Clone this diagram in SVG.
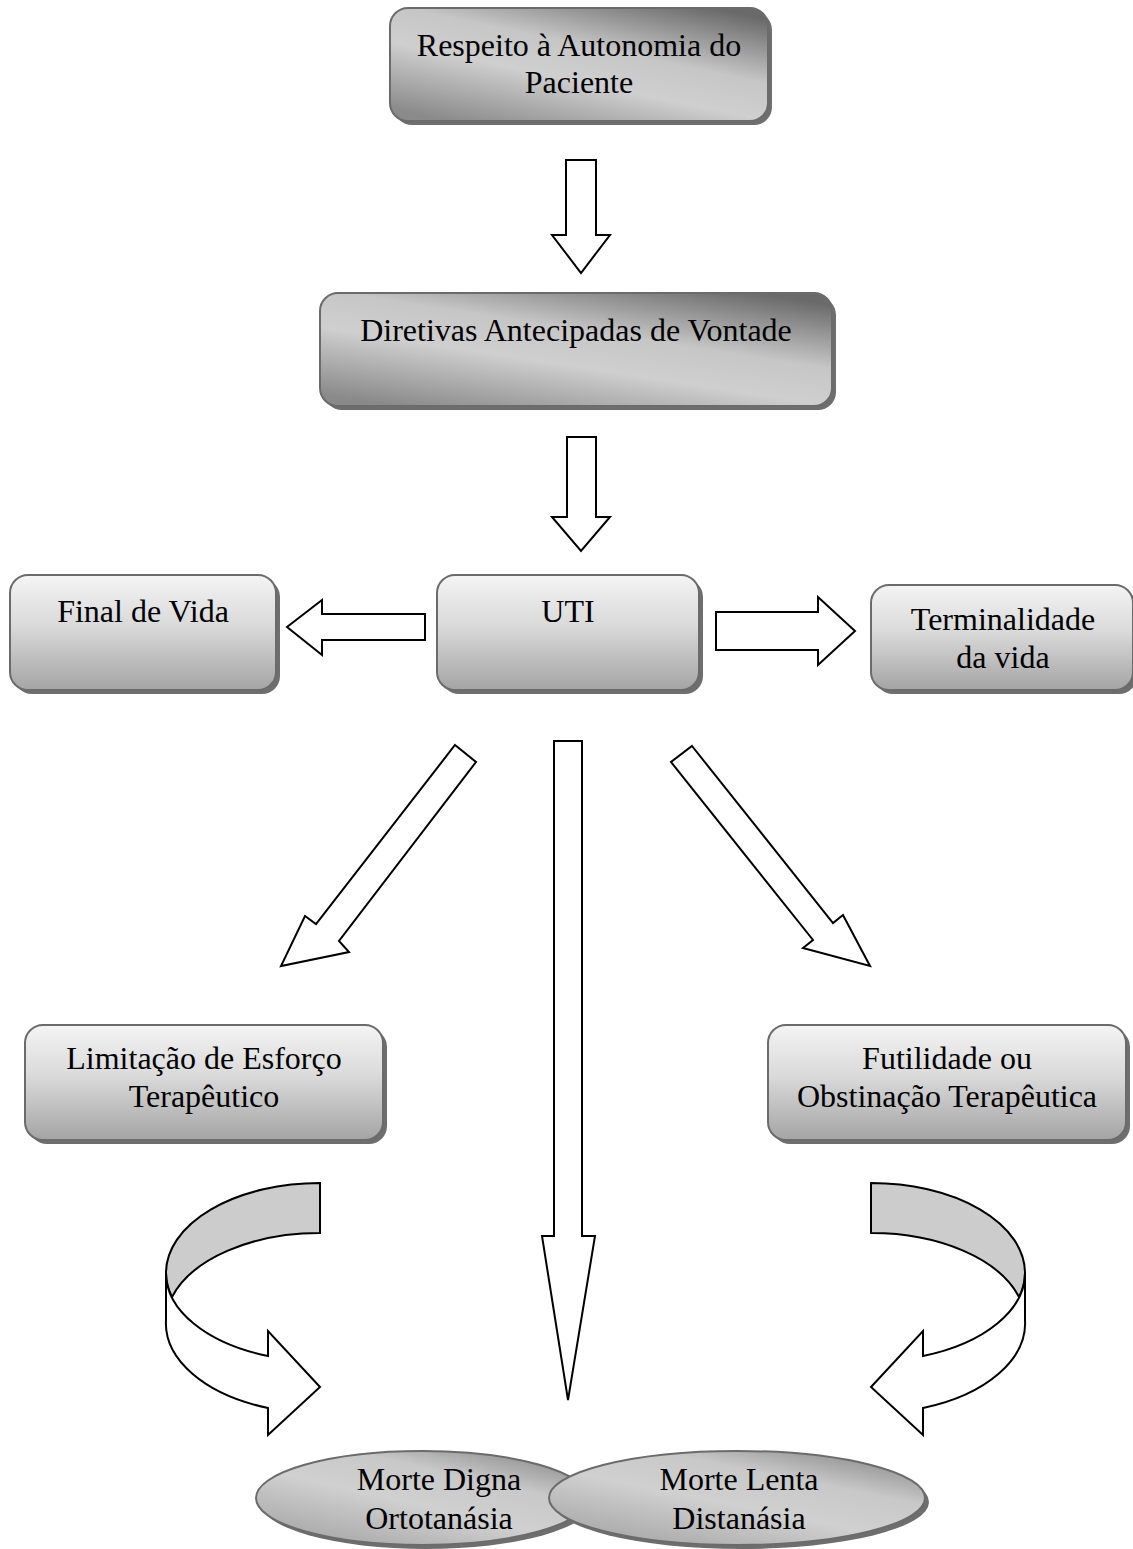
<svg xmlns="http://www.w3.org/2000/svg" width="1133" height="1549" viewBox="0 0 1133 1549">
<defs>
<linearGradient id="gMetal" x1="0.15" y1="1" x2="0.85" y2="0">
<stop offset="0" stop-color="#8a8a8a"/>
<stop offset="0.4" stop-color="#cfcfcf"/>
<stop offset="0.62" stop-color="#c6c6c6"/>
<stop offset="1" stop-color="#6a6a6a"/>
</linearGradient>
<linearGradient id="gSoft" x1="0" y1="0" x2="0" y2="1">
<stop offset="0" stop-color="#f4f4f4"/>
<stop offset="0.45" stop-color="#d9d9d9"/>
<stop offset="1" stop-color="#a4a4a4"/>
</linearGradient>
<linearGradient id="gEll" x1="0.1" y1="1" x2="0.9" y2="0">
<stop offset="0" stop-color="#a2a2a2"/>
<stop offset="0.45" stop-color="#d0d0d0"/>
<stop offset="0.7" stop-color="#c8c8c8"/>
<stop offset="1" stop-color="#858585"/>
</linearGradient>
</defs>
<style>
.box{stroke:#6b6b6b;stroke-width:2}
.shadow{fill:#6e6e6e}
.arr{fill:#ffffff;stroke:#000000;stroke-width:2;stroke-linejoin:miter}
.back{fill:#cccccc;stroke:#000000;stroke-width:2}
.t{font-family:"Liberation Serif","Times New Roman",serif;font-size:32px;fill:#000000;text-anchor:middle}
</style>
<rect width="1133" height="1549" fill="#ffffff"/>

<g id="connectors">
<path class="arr" d="M566,160 L596,160 L596,235 L610,235 L581,273 L552,235 L566,235 Z"/>
<path class="arr" d="M567,437 L596,437 L596,517 L610,517 L581,551 L552,517 L567,517 Z"/>
<path class="arr" d="M425,614 L322,614 L322,600 L287,627 L322,655 L322,640 L425,640 Z"/>
<path class="arr" d="M716,612 L818,612 L818,597 L855,631 L818,665 L818,650 L716,650 Z"/>
<path class="arr" d="M455,745 L476,762 L339,941 L349,952 L281,966 L305,916 L316,924 Z"/>
<path class="arr" d="M692,746 L833,923 L843,915 L870,966 L803,948 L813,940 L671,762 Z"/>
<path class="arr" d="M554,741 L582,741 L582,1236 L595,1236 L568,1400 L542,1236 L554,1236 Z"/>
<path class="back" d="M320,1183 A154,90 0 0 0 166,1273 A154,88 0 0 0 172,1297 A154,90 0 0 1 320,1233 Z"/>
<path class="arr" d="M166,1273 L166,1320 A154,90 0 0 0 268,1408 L268,1435 L320,1387 L268,1331 L268,1356 A154,88 0 0 1 166,1273 Z"/>
<path class="back" d="M871,1183 A154,90 0 0 1 1025,1273 A154,88 0 0 1 1019,1297 A154,90 0 0 0 871,1233 Z"/>
<path class="arr" d="M1025,1273 L1025,1320 A154,90 0 0 1 923,1408 L923,1435 L871,1387 L923,1331 L923,1356 A154,88 0 0 0 1025,1273 Z"/>
</g>

<g id="n1">
<rect class="shadow" x="394" y="12" width="378" height="113" rx="18"/>
<rect class="box" x="390" y="8" width="378" height="113" rx="18" fill="url(#gMetal)"/>
<text class="t" x="579" y="56">Respeito à Autonomia do</text>
<text class="t" x="579" y="93">Paciente</text>
</g>

<g id="n2">
<rect class="shadow" x="324" y="297" width="512" height="113" rx="18"/>
<rect class="box" x="320" y="293" width="512" height="113" rx="18" fill="url(#gMetal)"/>
<text class="t" x="576" y="341">Diretivas Antecipadas de Vontade</text>
</g>

<g id="n3">
<rect class="shadow" x="441" y="579" width="262" height="115" rx="18"/>
<rect class="box" x="437" y="575" width="262" height="115" rx="18" fill="url(#gSoft)"/>
<text class="t" x="568" y="622">UTI</text>
</g>

<g id="n4">
<rect class="shadow" x="14" y="579" width="266" height="115" rx="18"/>
<rect class="box" x="10" y="575" width="266" height="115" rx="18" fill="url(#gSoft)"/>
<text class="t" x="143" y="622">Final de Vida</text>
</g>

<g id="n5">
<rect class="shadow" x="875" y="589" width="262" height="105" rx="18"/>
<rect class="box" x="871" y="585" width="262" height="105" rx="18" fill="url(#gSoft)"/>
<text class="t" x="1003" y="630">Terminalidade</text>
<text class="t" x="1003" y="668">da vida</text>
</g>

<g id="n6">
<rect class="shadow" x="29" y="1029" width="358" height="115" rx="18"/>
<rect class="box" x="25" y="1025" width="358" height="115" rx="18" fill="url(#gSoft)"/>
<text class="t" x="204" y="1069">Limitação de Esforço</text>
<text class="t" x="204" y="1107">Terapêutico</text>
</g>

<g id="n7">
<rect class="shadow" x="772" y="1029" width="358" height="115" rx="18"/>
<rect class="box" x="768" y="1025" width="358" height="115" rx="18" fill="url(#gSoft)"/>
<text class="t" x="947" y="1069">Futilidade ou</text>
<text class="t" x="947" y="1107">Obstinação Terapêutica</text>
</g>

<g id="n8">
<ellipse class="shadow" cx="426" cy="1502" rx="166" ry="47"/>
<ellipse class="box" cx="422" cy="1498" rx="166" ry="47" fill="url(#gEll)"/>
<text class="t" x="439" y="1490">Morte Digna</text>
<text class="t" x="439" y="1529">Ortotanásia</text>
</g>

<g id="n9">
<ellipse class="shadow" cx="741" cy="1502" rx="188" ry="47"/>
<ellipse class="box" cx="737" cy="1498" rx="188" ry="47" fill="url(#gEll)"/>
<text class="t" x="739" y="1490">Morte Lenta</text>
<text class="t" x="739" y="1529">Distanásia</text>
</g>
</svg>
